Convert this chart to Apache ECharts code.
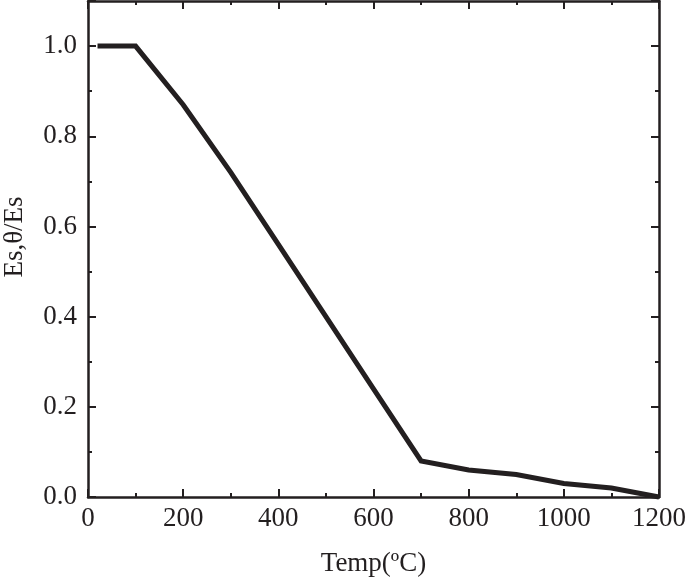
<!DOCTYPE html>
<html>
<head>
<meta charset="utf-8">
<script src="https://cdn.jsdelivr.net/npm/echarts@6/dist/echarts.min.js"></script>
<style>
  html, body { margin: 0; padding: 0; background: #fff; }
  #chart { width: 685px; height: 581px; }
</style>
</head>
<body>
<div id="chart"></div>
<script>
// temperature (ºC) and stiffness ratio
const temps = [20, 100, 200, 300, 400, 500, 600, 700, 800, 900, 1000, 1100, 1200];
const ratio = [1.0, 1.0, 0.87, 0.72, 0.56, 0.40, 0.24, 0.08, 0.06, 0.05, 0.03, 0.02, 0.0];

const xTickLabels = ['0', '200', '400', '600', '800', '1000', '1200'];

const ink = '#231f20';
const font = 'Liberation Serif';

let chart = echarts.init(document.getElementById('chart'));

let points = [];
for (let i = 0; i < temps.length; i++) {
  points.push([temps[i], ratio[i]]);
}

// common look of the box axes
function boxAxis(extra) {
  return Object.assign({
    axisLine: { show: true, onZero: false, lineStyle: { color: ink, width: 2.5 } },
    axisTick: { show: true, inside: true, length: 8, lineStyle: { color: ink, width: 2 } },
    minorTick: { show: true, splitNumber: 2, length: 4, lineStyle: { color: ink, width: 2 } },
    splitLine: { show: false },
    minorSplitLine: { show: false }
  }, extra);
}

let option = {
  backgroundColor: '#fff',
  animation: false,
  grid: { left: 88, right: 26, top: 1, bottom: 84, containLabel: false, outerBoundsMode: 'none' },
  xAxis: [
    boxAxis({
      type: 'value', min: 0, max: 1200, interval: 200, position: 'bottom',
      name: 'Temp(ºC)', nameLocation: 'middle', nameGap: 53,
      nameTextStyle: { fontFamily: font, fontSize: 27, color: ink },
      axisLabel: {
        fontFamily: font, fontSize: 27, color: ink, margin: 8,
        formatter: function (v) { return xTickLabels[Math.round(v / 200)]; }
      }
    }),
    boxAxis({
      type: 'value', min: 0, max: 1200, interval: 200, position: 'top',
      axisLabel: { show: false }
    })
  ],
  yAxis: [
    boxAxis({
      type: 'value', min: 0, max: 1.1, interval: 0.2, position: 'left',
      name: 'Es,θ/Es', nameLocation: 'middle', nameGap: 60,
      nameTextStyle: { fontFamily: font, fontSize: 27, color: ink, padding: [0, 0, 0, 24] },
      axisLabel: {
        fontFamily: font, fontSize: 27, color: ink, margin: 11,
        showMaxLabel: false,
        formatter: function (v) { return v.toFixed(1); }
      }
    }),
    boxAxis({
      type: 'value', min: 0, max: 1.1, interval: 0.2, position: 'right',
      axisLabel: { show: false }
    })
  ],
  series: [
    {
      type: 'line',
      data: points,
      xAxisIndex: 0,
      yAxisIndex: 0,
      showSymbol: false,
      lineStyle: { color: ink, width: 5, join: 'miter' },
      clip: false
    }
  ]
};

chart.setOption(option);
</script>
</body>
</html>
